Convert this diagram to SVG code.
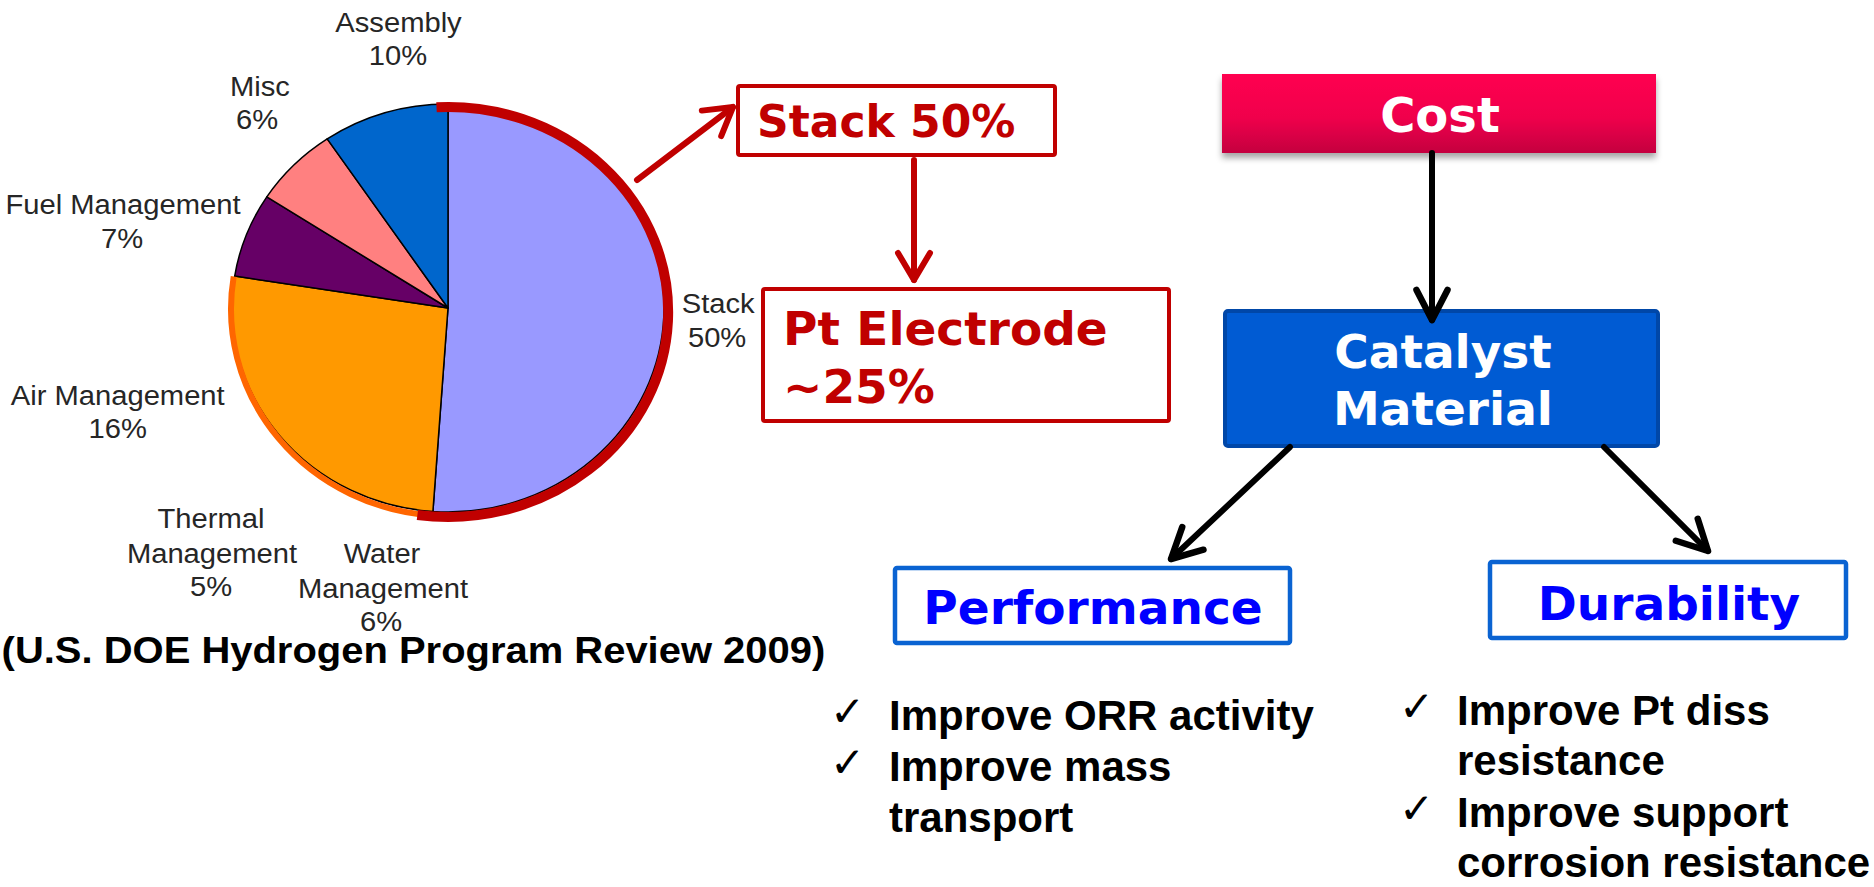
<svg xmlns="http://www.w3.org/2000/svg" width="1874" height="887" viewBox="0 0 1874 887">
<defs>
<style>
.lbl{font-family:"Liberation Sans",Arial,sans-serif;font-size:27px;fill:#262626;text-anchor:middle}
.cite{font-family:"Liberation Sans",Arial,sans-serif;font-weight:bold;font-size:37px;fill:#000}
.box-red{fill:#fff;stroke:#C00000;stroke-width:4}
.txt-red{font-family:"DejaVu Sans",Verdana,sans-serif;font-weight:bold;fill:#C00000}
.box-blue{fill:#fff;stroke:#0A63D2;stroke-width:4.5}
.txt-blue{font-family:"DejaVu Sans",Verdana,sans-serif;font-weight:bold;font-size:47px;fill:#0000FF;text-anchor:middle}
.txt-white{font-family:"DejaVu Sans",Verdana,sans-serif;font-weight:bold;fill:#fff;text-anchor:middle}
.bullet{font-family:"Liberation Sans",Arial,sans-serif;font-weight:bold;font-size:42px;fill:#000}
.check{font-family:"DejaVu Sans",sans-serif;font-size:42px;fill:#000}
.slice{stroke:#000;stroke-width:1.5;stroke-linejoin:round}
.conn-red{fill:none;stroke:#C00000;stroke-width:6;stroke-linecap:round}
.conn-black{fill:none;stroke:#000;stroke-width:6;stroke-linecap:round}
</style>
<linearGradient id="costGrad" x1="0" y1="0" x2="0" y2="1">
<stop offset="0" stop-color="#FF0050"/>
<stop offset="0.55" stop-color="#F0004C"/>
<stop offset="1" stop-color="#C4003F"/>
</linearGradient>
<filter id="shadow" x="-5%" y="-20%" width="110%" height="160%">
<feDropShadow dx="0" dy="5" stdDeviation="3" flood-color="#000" flood-opacity="0.35"/>
</filter>
<marker id="headRed" markerUnits="userSpaceOnUse" viewBox="-40 -25 50 50" refX="0" refY="0" markerWidth="50" markerHeight="50" orient="auto" overflow="visible">
<path d="M-27,-16 L0,0 L-27,16" fill="none" stroke="#C00000" stroke-width="6" stroke-linecap="round" stroke-linejoin="round"/>
</marker>
<marker id="headBlack" markerUnits="userSpaceOnUse" viewBox="-40 -25 50 50" refX="0" refY="0" markerWidth="50" markerHeight="50" orient="auto" overflow="visible">
<path d="M-30,-15.5 L0,0 L-30,15.5" fill="none" stroke="#000" stroke-width="6.5" stroke-linecap="round" stroke-linejoin="round"/>
</marker>
</defs>
<rect width="1874" height="887" fill="#fff"/>

<g id="pie">
<path class="slice" fill="#9999FF" d="M448,308 L448,104 A216,204 0 1,1 432.9,511.5 Z"/>
<path class="slice" fill="#FF9900" d="M448,308 L432.9,511.5 A216,204 0 0,1 234.7,276.1 Z"/>
<path class="slice" fill="#660066" d="M448,308 L234.7,276.1 A216,204 0 0,1 266.8,196.9 Z"/>
<path class="slice" fill="#FF8080" d="M448,308 L266.8,196.9 A216,204 0 0,1 327.2,138.9 Z"/>
<path class="slice" fill="#0066CC" d="M448,308 L327.2,138.9 A216,204 0 0,1 448,104 Z"/>
<path fill="none" stroke="#FF6600" stroke-width="6" d="M432.9,515.5 A217,207 0 0,1 233.7,276.5"/>
<path fill="none" stroke="#C00000" stroke-width="10" d="M436.5,107.3 A220,205 0 1,1 417.4,515"/>
</g>

<g id="pie-labels" transform="scale(1.08 1)">
<text class="lbl" x="369" y="32">Assembly</text>
<text class="lbl" x="368.5" y="65">10%</text>
<text class="lbl" x="240.7" y="96">Misc</text>
<text class="lbl" x="238" y="129">6%</text>
<text class="lbl" x="113.9" y="214">Fuel Management</text>
<text class="lbl" x="113" y="248">7%</text>
<text class="lbl" x="665" y="313">Stack</text>
<text class="lbl" x="664" y="347">50%</text>
<text class="lbl" x="109" y="405">Air Management</text>
<text class="lbl" x="109" y="438">16%</text>
<text class="lbl" x="195.4" y="528">Thermal</text>
<text class="lbl" x="196.3" y="563">Management</text>
<text class="lbl" x="195.4" y="596">5%</text>
<text class="lbl" x="353.7" y="563">Water</text>
<text class="lbl" x="354.6" y="598">Management</text>
<text class="lbl" x="352.8" y="631">6%</text>
</g>

<g id="citation" transform="scale(1.08 1)">
<text class="cite" x="1.5" y="663">(U.S. DOE Hydrogen Program Review 2009)</text>
</g>

<g id="stack-box">
<rect class="box-red" x="738" y="86" width="317" height="69" rx="2"/>
<text class="txt-red" x="757" y="137" font-size="44">Stack 50%</text>
</g>

<g id="pt-box">
<rect class="box-red" x="763" y="289" width="406" height="132" rx="2"/>
<text class="txt-red" x="783" y="345" font-size="47">Pt Electrode</text>
<text class="txt-red" x="783" y="403" font-size="47">~25%</text>
</g>

<g id="cost-box">
<rect x="1222" y="74" width="434" height="79" fill="url(#costGrad)" filter="url(#shadow)"/>
<text class="txt-white" x="1440" y="132" font-size="48">Cost</text>
</g>

<g id="catalyst-box">
<rect x="1225" y="311" width="433" height="135" rx="3" fill="#005BD3" stroke="#0047A8" stroke-width="4"/>
<text class="txt-white" x="1443" y="368" font-size="47">Catalyst</text>
<text class="txt-white" x="1443" y="425" font-size="47">Material</text>
</g>

<g id="performance-box">
<rect class="box-blue" x="895" y="568" width="395" height="75" rx="2"/>
<text class="txt-blue" x="1093" y="624">Performance</text>
</g>

<g id="durability-box">
<rect class="box-blue" x="1490" y="562" width="356" height="76" rx="2"/>
<text class="txt-blue" x="1669" y="620">Durability</text>
</g>

<g id="performance-bullets">
<text class="check" x="830" y="726">✓</text>
<text class="check" x="830" y="777">✓</text>
<text class="bullet" x="889" y="730">Improve ORR activity</text>
<text class="bullet" x="889" y="781">Improve mass</text>
<text class="bullet" x="889" y="832">transport</text>
</g>

<g id="durability-bullets">
<text class="check" x="1399" y="721">✓</text>
<text class="check" x="1399" y="823">✓</text>
<text class="bullet" x="1457" y="725">Improve Pt diss</text>
<text class="bullet" x="1457" y="775">resistance</text>
<text class="bullet" x="1457" y="827">Improve support</text>
<text class="bullet" x="1457" y="877">corrosion resistance</text>
</g>

<g id="connectors">
<line class="conn-red" x1="637" y1="180" x2="733" y2="107" marker-end="url(#headRed)"/>
<line class="conn-red" x1="914" y1="160" x2="914" y2="280" marker-end="url(#headRed)"/>
<line class="conn-black" x1="1432" y1="153" x2="1432" y2="320" marker-end="url(#headBlack)"/>
<line class="conn-black" x1="1290" y1="447" x2="1171" y2="559" marker-end="url(#headBlack)"/>
<line class="conn-black" x1="1604" y1="447" x2="1708" y2="551" marker-end="url(#headBlack)"/>
</g>
</svg>
